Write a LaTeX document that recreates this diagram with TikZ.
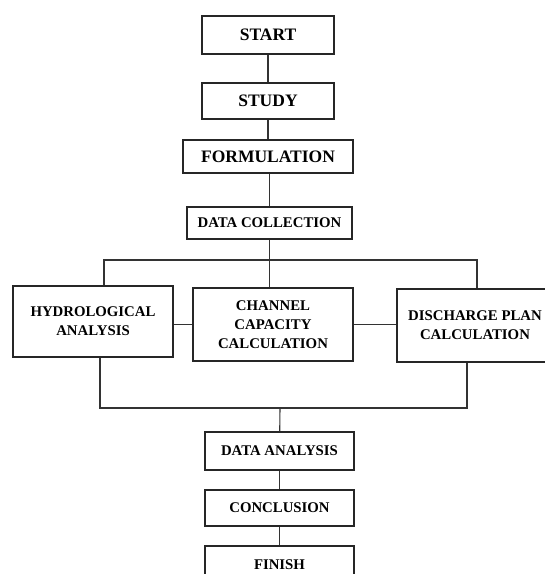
\documentclass[tikz,border=0pt]{standalone}
\usepackage{fontspec}
\setmainfont{Liberation Serif}
\usetikzlibrary{positioning}
\begin{document}
\begin{tikzpicture}[
    x=1pt, y=1pt,
    node distance=60pt,
    stepbox/.style={rectangle, draw=black!85, line width=1.1pt, align=center, inner sep=2pt, font=\bfseries\fontsize{14.8}{19}\selectfont},
    bigbox/.style={stepbox, font=\bfseries\fontsize{17.5}{21}\selectfont},
    link/.style={draw=black!80, line width=1.1pt}
]
    \useasboundingbox (0,0) rectangle (545,-574);

    \node[bigbox, minimum width=132pt, minimum height=38pt] (start) at (268,-35) {START};
    \node[bigbox, minimum width=132pt, minimum height=36pt, below of=start, yshift=-6pt] (study) {STUDY};
    \node[bigbox, minimum width=170pt, minimum height=33pt, below of=study, yshift=4.5pt] (formulation) {FORMULATION};
    \node[stepbox, minimum width=165pt, minimum height=32pt, below of=formulation, xshift=1.5pt, yshift=-6.5pt] (dcollection) {DATA COLLECTION};

    \node[stepbox, minimum width=160pt, minimum height=71pt] (hydro) at (93,-321.5) {HYDROLOGICAL\\ANALYSIS};
    \node[stepbox, minimum width=160pt, minimum height=73pt] (channel) at (273,-324.5) {CHANNEL\\CAPACITY\\CALCULATION};
    \node[stepbox, minimum width=156pt, minimum height=73pt] (discharge) at (475,-325.5) {DISCHARGE PLAN\\CALCULATION};

    \node[stepbox, minimum width=149pt, minimum height=38pt] (danalysis) at (279.5,-451) {DATA ANALYSIS};
    \node[stepbox, minimum width=149pt, minimum height=36pt, below of=danalysis, yshift=3pt] (conclusion) {CONCLUSION};
    \node[stepbox, minimum width=149pt, minimum height=38pt, below of=conclusion, yshift=3pt] (finish) {FINISH};

    \coordinate (branch) at (269,-260);
    \coordinate (merge) at (280,-408);

    \draw[link] (start) -- (study);
    \draw[link] (study) -- (formulation);
    \draw[link] (formulation.south -| dcollection.south) -- (dcollection);
    \draw[link] (dcollection.south) -- (dcollection.south |- channel.north);
    \draw[link] ([xshift=11pt]hydro.north) |- (branch) -| ([xshift=2pt]discharge.north);
    \draw[link] (hydro.east |- channel) -- (channel);
    \draw[link] (channel) -- (channel -| discharge.west);
    \draw[link] ([xshift=7pt]hydro.south) |- (merge) -| ([xshift=-8pt]discharge.south);
    \draw[link] (merge) -- (danalysis);
    \draw[link] (danalysis) -- (conclusion);
    \draw[link] (conclusion) -- (finish);
\end{tikzpicture}
\end{document}
